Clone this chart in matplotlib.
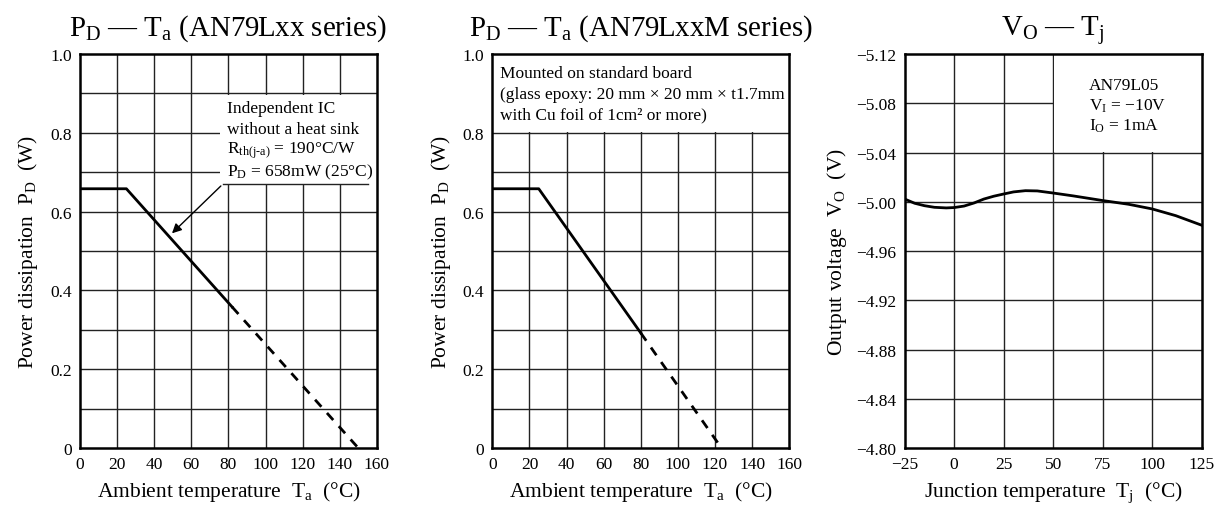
import numpy as np
import matplotlib.pyplot as plt
from matplotlib.patches import Rectangle

plt.rcParams["font.family"] = ["Liberation Serif", "DejaVu Serif"]
plt.rcParams["mathtext.fontset"] = "custom"
plt.rcParams["mathtext.rm"] = "Liberation Serif"
plt.rcParams["mathtext.it"] = "Liberation Serif:italic"

# ---- data ----
# AN79Lxx: flat 658 mW to 25 C, derated to 0 at 150 C (dashed beyond ~82 C)
ta_lxx_solid = [0, 25, 82]
pd_lxx_solid = [0.658, 0.658, 0.358]
ta_lxx_dash = [82, 150]
pd_lxx_dash = [0.358, 0.0]

# AN79LxxM: mounted on board
ta_lxxm_solid = [0, 25, 80]
pd_lxxm_solid = [0.658, 0.658, 0.292]
ta_lxxm_dash = [80, 123.5]
pd_lxxm_dash = [0.292, 0.0]

# AN79L05 output voltage vs junction temperature
tj = [-25, -20, -15, -10, -4, 0, 5, 10, 15, 20, 25, 30, 36, 42, 50, 60, 75, 88, 100, 112, 125]
vo = [-5.0022, -4.9988, -4.9968, -4.9955, -4.9950, -4.9953, -4.9965, -4.9990, -5.0022,
      -5.0045, -5.0063, -5.0080, -5.0090, -5.0088, -5.0071, -5.0048, -5.0010, -4.9980,
      -4.9942, -4.9887, -4.9810]

fig = plt.figure(figsize=(12.16, 5.06), dpi=100)
bottom, height = 0.1126, 0.7787
lefts = [0.0658, 0.4049, 0.7440]
width = 0.2441
axes = [fig.add_axes([l, bottom, width, height]) for l in lefts]

grid_kw = dict(color="#222222", linewidth=1.0, zorder=0.5)
curve_kw = dict(color="black", linewidth=2.0, zorder=3)
dash_kw = dict(color="black", linewidth=2.0, linestyle=(0, (3.4, 3.0)), zorder=3)
note_size = 12.5
title_size = 20.8
label_size = 15.5


def style_axes(ax):
    for sp in ax.spines.values():
        sp.set_linewidth(1.8)
        sp.set_zorder(4)
    ax.tick_params(length=0, pad=6, labelsize=12.5)


# ---- panel 1 ----
ax = axes[0]
ax.set_xlim(0, 160)
ax.set_ylim(0, 1.0)
ax.set_xticks(range(0, 161, 20))
ax.set_yticks([0, 0.2, 0.4, 0.6, 0.8, 1.0])
ax.set_yticklabels(["0", "0.2", "0.4", "0.6", "0.8", "1.0"])
for x in range(20, 160, 20):
    ax.axvline(x, **grid_kw)
for y in np.arange(0.1, 1.0, 0.1):
    ax.axhline(y, **grid_kw)
ax.add_patch(Rectangle((75.5, 0.671), 84.5, 0.226, facecolor="white", edgecolor="none", zorder=1))
ax.plot([77, 155], [0.67, 0.67], color="#222222", linewidth=1.0, zorder=2)
ax.plot(ta_lxx_solid, pd_lxx_solid, **curve_kw)
ax.plot(ta_lxx_dash, pd_lxx_dash, **dash_kw)
ax.annotate("", xy=(48.5, 0.54), xytext=(77, 0.67),
            arrowprops=dict(arrowstyle="-|>", color="black", lw=1.0, mutation_scale=14), zorder=3)
note1 = ["Independent IC", "without a heat sink",
         r"R$_{\mathrm{th(j}\text{-}\mathrm{a)}}$ = 190°C/W", r"P$_\mathrm{D}$ = 658mW (25°C)"]
for i, t in enumerate(note1):
    ax.text(79.0, 0.862 - i * 0.053, t, fontsize=note_size, va="center", ha="left", zorder=3)
ax.set_title(r"P$_\mathrm{D}$ — T$_\mathrm{a}$ (AN79Lxx series)", fontsize=title_size, pad=14)
ax.set_xlabel(r"Ambient temperature  T$_\mathrm{a}$  (°C)", fontsize=label_size, labelpad=5)
ax.set_ylabel(r"Power dissipation  P$_\mathrm{D}$  (W)", fontsize=label_size, labelpad=7)
style_axes(ax)

# ---- panel 2 ----
ax = axes[1]
ax.set_xlim(0, 160)
ax.set_ylim(0, 1.0)
ax.set_xticks(range(0, 161, 20))
ax.set_yticks([0, 0.2, 0.4, 0.6, 0.8, 1.0])
ax.set_yticklabels(["0", "0.2", "0.4", "0.6", "0.8", "1.0"])
for x in range(20, 160, 20):
    ax.axvline(x, **grid_kw)
for y in np.arange(0.1, 1.0, 0.1):
    ax.axhline(y, **grid_kw)
ax.add_patch(Rectangle((0, 0.803), 160, 0.2, facecolor="white", edgecolor="none", zorder=1))
ax.plot(ta_lxxm_solid, pd_lxxm_solid, **curve_kw)
ax.plot(ta_lxxm_dash, pd_lxxm_dash, **dash_kw)
note2 = ["Mounted on standard board", "(glass epoxy: 20 mm × 20 mm × t1.7mm",
         "with Cu foil of 1cm² or more)"]
for i, t in enumerate(note2):
    ax.text(4.3, 0.952 - i * 0.053, t, fontsize=note_size, va="center", ha="left", zorder=3)
ax.set_title(r"P$_\mathrm{D}$ — T$_\mathrm{a}$ (AN79LxxM series)", fontsize=title_size, pad=14)
ax.set_xlabel(r"Ambient temperature  T$_\mathrm{a}$  (°C)", fontsize=label_size, labelpad=5)
ax.set_ylabel(r"Power dissipation  P$_\mathrm{D}$  (W)", fontsize=label_size, labelpad=7)
style_axes(ax)

# ---- panel 3 ----
ax = axes[2]
ax.set_xlim(-25, 125)
ax.set_ylim(-4.80, -5.12)
ax.set_xticks(range(-25, 126, 25))
yt = [-4.80, -4.84, -4.88, -4.92, -4.96, -5.00, -5.04, -5.08, -5.12]
ax.set_yticks(yt)
ax.set_yticklabels([f"{v:.2f}".replace("-", "\u2212") for v in yt])
ax.set_xticklabels([f"{v}".replace("-", "\u2212") for v in range(-25, 126, 25)])
for x in range(0, 125, 25):
    ax.axvline(x, **grid_kw)
for y in yt[1:-1]:
    ax.axhline(y, **grid_kw)
ax.add_patch(Rectangle((50.4, -5.12), 74.6, 0.0795, facecolor="white", edgecolor="none", zorder=1))
ax.plot(tj, vo, **curve_kw)
note3 = ["AN79L05", r"V$_\mathrm{I}$ = −10V", r"I$_\mathrm{O}$ = 1mA"]
for i, t in enumerate(note3):
    ax.text(68.0, -5.095 + i * 0.0163, t, fontsize=note_size, va="center", ha="left", zorder=3)
ax.set_title(r"V$_\mathrm{O}$ — T$_\mathrm{j}$", fontsize=title_size, pad=14)
ax.set_xlabel(r"Junction temperature  T$_\mathrm{j}$  (°C)", fontsize=label_size, labelpad=5)
ax.set_ylabel(r"Output voltage  V$_\mathrm{O}$  (V)", fontsize=label_size, labelpad=5)
style_axes(ax)

fig.savefig("out.png", dpi=100, facecolor="white")
